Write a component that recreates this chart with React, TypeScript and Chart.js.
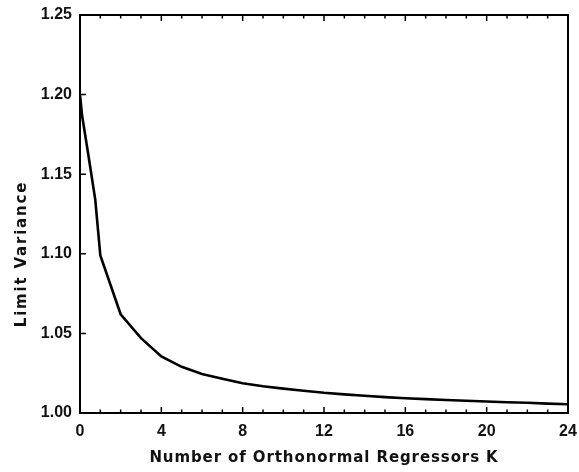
import React, { useEffect, useRef } from "react";
import { Chart, registerables } from "chart.js";

Chart.register(...registerables);

// Number of orthonormal regressors K (x) and limit variance (y)
const kValues = [0, 0.1, 0.4, 0.75, 1, 2, 3, 4, 5, 6, 7, 8, 9, 10, 11, 12, 13, 14, 15, 16, 17, 18, 19, 20, 21, 22, 23, 24];
const limitVariance = [
  1.2, 1.187, 1.163, 1.134, 1.099, 1.062, 1.047, 1.0355, 1.029, 1.0245, 1.0215, 1.0187, 1.0168, 1.0153,
  1.014, 1.0127, 1.0117, 1.0108, 1.01, 1.0093, 1.0087, 1.0082, 1.0077, 1.0072, 1.0068, 1.0064, 1.0059, 1.0055,
];
const xTickValues = [0, 4, 8, 12, 16, 20, 24];
const yTickValues = [1.0, 1.05, 1.1, 1.15, 1.2, 1.25];
const xTitle = "Number of Orthonormal Regressors K";
const yTitle = "Limit Variance";

const TICK_FONT = { family: "'Liberation Sans', Arial, sans-serif", size: 16, weight: "bold" as const };
const TITLE_FONT = "bold 15px 'DejaVu Sans', sans-serif";

const framePlugin = {
  id: "frame",
  afterDraw(chart: any) {
    const { ctx, chartArea } = chart;
    const xs = chart.scales.x;
    const ys = chart.scales.y;
    const { left, right, top, bottom } = chartArea;
    ctx.save();
    ctx.strokeStyle = "#000";
    ctx.lineWidth = 2;
    ctx.strokeRect(left, top, right - left, bottom - top);
    ctx.lineWidth = 1.5;
    ctx.beginPath();
    for (let k = 0; k <= 24; k++) {
      const px = xs.getPixelForValue(k);
      const len = k % 4 === 0 ? 6 : 3.5;
      ctx.moveTo(px, bottom);
      ctx.lineTo(px, bottom - len);
      ctx.moveTo(px, top);
      ctx.lineTo(px, top + len);
    }
    for (const v of yTickValues) {
      const py = ys.getPixelForValue(v);
      ctx.moveTo(left, py);
      ctx.lineTo(left + 6, py);
    }
    ctx.stroke();

    ctx.fillStyle = "#111";
    ctx.font = TITLE_FONT;
    ctx.textAlign = "center";
    ctx.textBaseline = "middle";
    (ctx as any).letterSpacing = "0.9px";
    ctx.fillText(xTitle, (left + right) / 2, 458);
    (ctx as any).letterSpacing = "1.8px";
    ctx.translate(22, 254);
    ctx.rotate(-Math.PI / 2);
    ctx.fillText(yTitle, 0, 0);
    ctx.restore();
  },
};

export default function App() {
  const ref = useRef<HTMLCanvasElement | null>(null);
  useEffect(() => {
    if (!ref.current) return;
    const chart = new Chart(ref.current, {
      type: "line",
      data: {
        datasets: [
          {
            data: kValues.map((k, i) => ({ x: k, y: limitVariance[i] })),
            borderColor: "#000",
            borderWidth: 2.6,
            pointRadius: 0,
            tension: 0,
            fill: false,
          },
        ],
      },
      options: {
        animation: false,
        responsive: false,
        devicePixelRatio: 1,
        layout: { padding: { top: 15, right: 11, left: 0, bottom: 0 } },
        plugins: { legend: { display: false }, tooltip: { enabled: false } },
        scales: {
          x: {
            type: "linear",
            min: 0,
            max: 24,
            afterFit: (s: any) => {
              s.height = 59;
              s.paddingLeft = 0;
              s.paddingRight = 0;
            },
            afterBuildTicks: (s: any) => {
              s.ticks = xTickValues.map((v) => ({ value: v }));
            },
            grid: { display: false, drawTicks: false },
            border: { display: false },
            ticks: {
              color: "#111",
              font: TICK_FONT,
              padding: 9,
              maxRotation: 0,
              callback: (v: any) => String(v),
            },
          },
          y: {
            type: "linear",
            min: 1.0,
            max: 1.25,
            afterFit: (s: any) => {
              s.width = 80;
              s.paddingTop = 0;
              s.paddingBottom = 0;
            },
            afterBuildTicks: (s: any) => {
              s.ticks = yTickValues.map((v) => ({ value: v }));
            },
            grid: { display: false, drawTicks: false },
            border: { display: false },
            ticks: {
              color: "#111",
              font: TICK_FONT,
              padding: 8,
              callback: (v: any) => Number(v).toFixed(2),
            },
          },
        },
      },
      plugins: [framePlugin],
    });
    return () => chart.destroy();
  }, []);
  return (
    <div style={{ position: "absolute", left: 0, top: 0, width: 579, height: 472, background: "#fff" }}>
      <canvas ref={ref} width={579} height={472} />
    </div>
  );
}
